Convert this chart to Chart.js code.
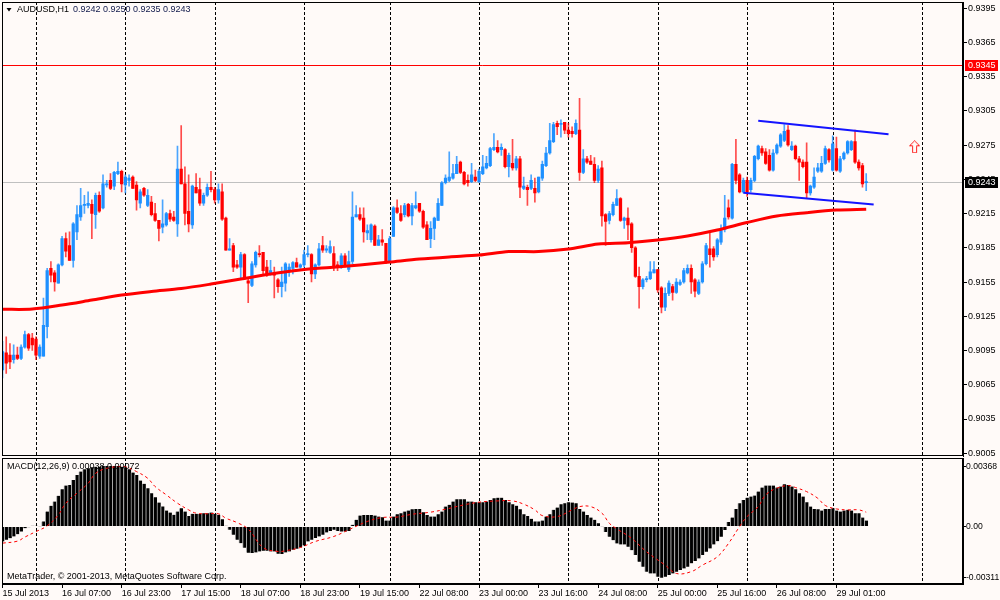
<!DOCTYPE html>
<html>
<head>
<meta charset="utf-8">
<script src="https://cdn.jsdelivr.net/npm/chart.js@4.4.1/dist/chart.umd.min.js"></script>
<style>
  body { margin: 0; background: #fffaf8; }
  #wrap { position: relative; width: 1000px; height: 600px; background: #fffaf8; overflow: hidden; }
  #wrap canvas { position: absolute; left: 0; }
</style>
</head>
<body>
<div id="wrap">
  <canvas id="price" width="1000" height="458" style="top:0"></canvas>
  <canvas id="macd" width="1000" height="142" style="top:458px"></canvas>
</div>
<script>
// AUDUSD H1 with SMA, channel lines and MACD(12,26,9) sub-window

// ---- time axis (broker hours, one bar per hour) ----
const days      = ['15 Jul', '16 Jul', '17 Jul', '18 Jul', '19 Jul', '22 Jul', '23 Jul', '24 Jul', '25 Jul', '26 Jul', '29 Jul', '30 Jul'];
const dayFirstH = [15, 0, 0, 0, 0, 0, 0, 0, 0, 0, 0, 0];
const dayLastH  = [23, 23, 23, 23, 22, 23, 23, 23, 23, 22, 23, 23];
const barCount  = 259;

const axisLabelBars = [0, 16, 32, 48, 64, 80, 96, 112, 128, 144, 160, 176, 192, 208, 224];
const axisLabelText = ['15 Jul 2013', '16 Jul 07:00', '16 Jul 23:00', '17 Jul 15:00', '18 Jul 07:00',
  '18 Jul 23:00', '19 Jul 15:00', '22 Jul 08:00', '23 Jul 00:00', '23 Jul 16:00', '24 Jul 08:00',
  '25 Jul 00:00', '25 Jul 16:00', '26 Jul 08:00', '29 Jul 01:00'];

// ---- candles ----
const opens = [
  .9078,.9093,.9091,.9087,.9091,.9088,.9098,.9109,.9106,.9105,
  .9090,.9090,.9116,.9167,.9163,.9154,.9170,.9193,.9187,.9174,
  .9199,.9212,.9222,.9222,.9223,.9214,.9231,.9220,.9240,.9244,
  .9239,.9250,.9252,.9240,.9244,.9247,.9240,.9224,.9237,.9222,
  .9225,.9215,.9209,.9203,.9205,.9215,.9212,.9206,.9254,.9241,
  .9217,.9205,.9238,.9236,.9224,.9231,.9238,.9236,.9227,.9234,
  .9211,.9183,.9187,.9170,.9168,.9179,.9156,.9152,.9170,.9180,
  .9181,.9168,.9162,.9162,.9157,.9151,.9154,.9164,.9167,.9172,
  .9168,.9170,.9179,.9179,.9162,.9170,.9187,.9183,.9181,.9180,
  .9170,.9168,.9178,.9166,.9173,.9212,.9214,.9211,.9198,.9192,
  .9204,.9187,.9192,.9189,.9173,.9195,.9220,.9215,.9214,.9223,
  .9213,.9220,.9224,.9217,.9205,.9193,.9202,.9209,.9222,.9242,
  .9244,.9246,.9250,.9260,.9251,.9244,.9243,.9247,.9243,.9250,
  .9255,.9257,.9271,.9273,.9271,.9271,.9256,.9259,.9255,.9263,
  .9237,.9238,.9237,.9237,.9234,.9246,.9257,.9268,.9278,.9294,
  .9293,.9295,.9288,.9287,.9285,.9288,.9251,.9263,.9261,.9258,
  .9244,.9255,.9214,.9209,.9214,.9222,.9228,.9209,.9211,.9206,
  .9185,.9160,.9151,.9157,.9158,.9163,.9166,.9150,.9133,.9145,
  .9151,.9146,.9153,.9155,.9163,.9167,.9157,.9145,.9155,.9171,
  .9184,.9184,.9179,.9190,.9201,.9220,.9211,.9258,.9249,.9234,
  .9244,.9236,.9244,.9263,.9272,.9269,.9266,.9253,.9268,.9274,
  .9279,.9288,.9271,.9274,.9263,.9260,.9260,.9233,.9238,.9252,
  .9252,.9259,.9271,.9253,.9272,.9252,.9263,.9268,.9271,.9278,
  .9260,.9257,.9242
];
const highs = [
  .9103,.9107,.9101,.9100,.9098,.9100,.9112,.9110,.9110,.9107,
  .9100,.9141,.9167,.9173,.9165,.9171,.9195,.9198,.9199,.9207,
  .9222,.9237,.9231,.9234,.9227,.9233,.9234,.9249,.9244,.9250,
  .9252,.9260,.9253,.9249,.9249,.9248,.9243,.9236,.9238,.9236,
  .9230,.9224,.9209,.9227,.9216,.9218,.9217,.9274,.9292,.9256,
  .9249,.9240,.9250,.9246,.9233,.9241,.9252,.9238,.9241,.9241,
  .9212,.9193,.9189,.9174,.9181,.9180,.9158,.9173,.9182,.9187,
  .9181,.9174,.9174,.9168,.9158,.9168,.9172,.9171,.9173,.9176,
  .9171,.9183,.9187,.9180,.9171,.9189,.9195,.9187,.9191,.9186,
  .9173,.9180,.9180,.9182,.9234,.9222,.9220,.9220,.9205,.9206,
  .9205,.9196,.9201,.9189,.9195,.9221,.9227,.9222,.9224,.9224,
  .9224,.9234,.9224,.9218,.9208,.9208,.9212,.9228,.9243,.9249,
  .9269,.9258,.9265,.9261,.9252,.9249,.9259,.9253,.9254,.9266,
  .9265,.9273,.9285,.9279,.9276,.9272,.9268,.9280,.9265,.9265,
  .9247,.9240,.9249,.9246,.9247,.9261,.9273,.9294,.9295,.9296,
  .9297,.9295,.9294,.9291,.9297,.9316,.9271,.9265,.9266,.9264,
  .9257,.9261,.9215,.9217,.9225,.9236,.9229,.9212,.9220,.9207,
  .9186,.9168,.9158,.9160,.9173,.9173,.9166,.9151,.9150,.9156,
  .9153,.9158,.9157,.9167,.9170,.9170,.9158,.9157,.9173,.9189,
  .9198,.9186,.9193,.9205,.9231,.9227,.9259,.9280,.9250,.9246,
  .9247,.9246,.9266,.9275,.9274,.9272,.9271,.9271,.9276,.9285,
  .9293,.9292,.9278,.9275,.9265,.9262,.9277,.9240,.9255,.9259,
  .9265,.9274,.9272,.9283,.9282,.9265,.9269,.9279,.9279,.9288,
  .9262,.9259,.9250
];
const lows = [
  .9071,.9075,.9079,.9084,.9087,.9087,.9097,.9095,.9095,.9087,
  .9088,.9090,.9106,.9155,.9147,.9154,.9169,.9177,.9174,.9168,
  .9192,.9209,.9215,.9220,.9193,.9202,.9216,.9219,.9238,.9236,
  .9236,.9249,.9234,.9233,.9239,.9237,.9218,.9220,.9230,.9221,
  .9213,.9208,.9191,.9198,.9204,.9208,.9208,.9195,.9241,.9205,
  .9199,.9202,.9233,.9222,.9222,.9230,.9234,.9224,.9224,.9209,
  .9183,.9183,.9164,.9167,.9158,.9158,.9137,.9151,.9168,.9177,
  .9162,.9160,.9161,.9141,.9146,.9142,.9147,.9160,.9162,.9168,
  .9167,.9168,.9177,.9155,.9158,.9169,.9181,.9181,.9180,.9165,
  .9165,.9167,.9168,.9164,.9171,.9212,.9209,.9190,.9192,.9190,
  .9187,.9187,.9187,.9171,.9172,.9195,.9215,.9208,.9212,.9212,
  .9205,.9219,.9216,.9202,.9192,.9185,.9192,.9209,.9222,.9241,
  .9243,.9245,.9250,.9250,.9240,.9239,.9242,.9243,.9242,.9249,
  .9254,.9256,.9270,.9268,.9266,.9255,.9247,.9253,.9253,.9229,
  .9236,.9222,.9236,.9225,.9233,.9244,.9256,.9267,.9277,.9284,
  .9282,.9285,.9282,.9282,.9284,.9244,.9250,.9259,.9258,.9242,
  .9242,.9204,.9187,.9206,.9213,.9222,.9208,.9202,.9192,.9181,
  .9159,.9132,.9149,.9155,.9157,.9163,.9146,.9128,.9130,.9143,
  .9139,.9145,.9152,.9154,.9162,.9145,.9142,.9144,.9154,.9170,
  .9168,.9174,.9177,.9188,.9199,.9210,.9210,.9241,.9233,.9233,
  .9230,.9234,.9243,.9262,.9266,.9258,.9252,.9252,.9267,.9273,
  .9278,.9274,.9270,.9262,.9244,.9255,.9228,.9231,.9237,.9251,
  .9251,.9258,.9260,.9252,.9252,.9251,.9262,.9267,.9270,.9259,
  .9253,.9238,.9235
];
const closes = [
  .9094,.9084,.9085,.9091,.9088,.9098,.9109,.9097,.9100,.9091,
  .9098,.9117,.9165,.9161,.9155,.9170,.9193,.9182,.9174,.9206,
  .9214,.9222,.9223,.9224,.9215,.9231,.9217,.9241,.9241,.9237,
  .9251,.9252,.9241,.9247,.9246,.9237,.9227,.9234,.9231,.9231,
  .9214,.9209,.9202,.9206,.9215,.9210,.9209,.9254,.9241,.9215,
  .9206,.9239,.9233,.9224,.9231,.9238,.9236,.9227,.9236,.9210,
  .9183,.9184,.9168,.9168,.9179,.9158,.9154,.9171,.9181,.9179,
  .9165,.9162,.9165,.9161,.9151,.9155,.9171,.9168,.9172,.9168,
  .9170,.9179,.9180,.9162,.9170,.9184,.9183,.9184,.9186,.9169,
  .9168,.9178,.9170,.9173,.9212,.9214,.9210,.9199,.9200,.9205,
  .9187,.9192,.9190,.9173,.9193,.9220,.9216,.9209,.9222,.9213,
  .9222,.9222,.9217,.9203,.9192,.9202,.9211,.9224,.9242,.9246,
  .9247,.9250,.9258,.9251,.9241,.9242,.9249,.9244,.9252,.9256,
  .9259,.9272,.9273,.9269,.9273,.9256,.9266,.9255,.9263,.9238,
  .9239,.9236,.9244,.9233,.9247,.9258,.9268,.9279,.9293,.9291,
  .9294,.9288,.9285,.9285,.9294,.9251,.9263,.9260,.9258,.9244,
  .9254,.9213,.9208,.9215,.9223,.9228,.9209,.9211,.9205,.9185,
  .9160,.9151,.9157,.9158,.9164,.9166,.9148,.9133,.9145,.9154,
  .9146,.9155,.9155,.9165,.9167,.9155,.9147,.9155,.9171,.9187,
  .9179,.9177,.9192,.9200,.9211,.9212,.9258,.9244,.9234,.9244,
  .9234,.9244,.9265,.9274,.9268,.9259,.9253,.9268,.9275,.9284,
  .9287,.9275,.9274,.9263,.9260,.9256,.9233,.9239,.9247,.9255,
  .9259,.9272,.9262,.9276,.9253,.9263,.9268,.9278,.9278,.9260,
  .9255,.9241,.9243
];

// moving average, read every 8 bars
const maBars = [0, 8, 16, 24, 32, 40, 48, 56, 64, 72, 80, 88, 96, 104, 112, 120, 128, 136, 144, 152, 160, 168, 176, 184, 192, 200, 208, 216, 224, 232];
const maVals = [.91311, .91313, .91348, .91392, .91436, .91467, .91493, .91532, .91576, .91620,
  .91655, .91678, .91700, .91725, .91751, .91770, .91786, .91817, .91817, .91839,
  .91883, .91894, .91918, .91953, .92005, .92071, .92128, .92157, .92180, .92187];

// drawn objects
const upperBars = [203, 238];
const upperVals = [.92963, .92844];
const lowerBars = [199, 234];
const lowerVals = [.92332, .92230];
const arrowBar = 245;
const arrowPrice = .92735;
const levelPrices = [.9345, .9243];
const levelColors = ['#ff0000', '#c0c0c0'];
const levelBoxes  = ['#ff0000', '#000000'];

const priceTicks = [.9005, .9035, .9065, .9095, .9125, .9155, .9185, .9215, .9245, .9275, .9305, .9335, .9365, .9395];

// ---- MACD ----
const macdHist = [
  -.00092,-.00082,-.00072,-.00061,-.00047,-.00031,-.00010,-.00004,.00004,.00004,
  -.00002,.00031,.00092,.00127,.00153,.00188,.00229,.00251,.00255,.00286,
  .00316,.00337,.00351,.00357,.00363,.00367,.00367,.00371,.00371,.00371,
  .00371,.00371,.00367,.00363,.00351,.00331,.00316,.00282,.00262,.00235,
  .00204,.00180,.00147,.00123,.00098,.00086,.00072,.00092,.00112,.00092,
  .00065,.00078,.00078,.00078,.00082,.00082,.00086,.00078,.00072,.00045,
  .00004,-.00020,-.00051,-.00082,-.00102,-.00131,-.00161,-.00163,-.00159,-.00153,
  -.00149,-.00149,-.00153,-.00153,-.00167,-.00169,-.00159,-.00153,-.00143,-.00137,
  -.00129,-.00116,-.00092,-.00082,-.00071,-.00061,-.00051,-.00037,-.00027,-.00020,
  -.00027,-.00031,-.00031,-.00027,.00010,.00041,.00067,.00071,.00071,.00071,
  .00067,.00061,.00057,.00037,.00037,.00061,.00075,.00082,.00092,.00098,
  .00106,.00108,.00108,.00088,.00071,.00061,.00061,.00075,.00092,.00122,
  .00133,.00153,.00167,.00167,.00167,.00153,.00153,.00149,.00149,.00149,
  .00153,.00163,.00173,.00177,.00177,.00163,.00149,.00137,.00128,.00106,
  .00075,.00065,.00047,.00031,.00031,.00037,.00061,.00075,.00102,.00116,
  .00137,.00143,.00149,.00147,.00143,.00108,.00092,.00071,.00055,.00041,
  .00020,-.00002,-.00033,-.00063,-.00084,-.00104,-.00110,-.00110,-.00124,-.00145,
  -.00175,-.00216,-.00247,-.00277,-.00288,-.00288,-.00308,-.00314,-.00308,-.00298,
  -.00288,-.00277,-.00267,-.00257,-.00247,-.00226,-.00212,-.00196,-.00175,-.00155,
  -.00135,-.00110,-.00090,-.00063,-.00022,.00027,.00055,.00108,.00143,.00163,
  .00177,.00184,.00190,.00214,.00239,.00251,.00251,.00251,.00239,.00245,
  .00259,.00255,.00245,.00228,.00204,.00184,.00149,.00122,.00108,.00106,
  .00098,.00108,.00108,.00112,.00098,.00092,.00098,.00102,.00098,.00082,
  .00082,.00055,.00037
];
const sigBars = [0, 4, 6, 9, 12, 15, 17, 20, 23, 25, 28, 31, 33, 36, 39, 41, 44, 47, 50, 52,
  55, 58, 60, 63, 66, 70, 74, 76, 80, 84, 89, 93, 98, 102, 106, 110, 115, 119, 124, 128,
  133, 137, 140, 143, 145, 149, 153, 155, 158, 161, 163, 165, 169, 173, 178, 181, 185, 188, 192, 195,
  198, 200, 203, 205, 208, 211, 213, 216, 219, 221, 224, 227, 230, 232];
const sigVals = [-.00102, -.00090, -.00065, -.00031, .00004, .00071, .00143, .00204, .00265, .00326,
  .00357, .00367, .00367, .00337, .00296, .00245, .00194, .00143, .00102, .00082,
  .00078, .00078, .00051, .00024, -.00016, -.00129, -.00153, -.00149, -.00129, -.00092,
  -.00061, -.00020, .00031, .00055, .00058, .00075, .00088, .00106, .00133, .00149,
  .00157, .00157, .00137, .00102, .00067, .00061, .00102, .00122, .00122, .00082,
  .00020, -.00014, -.00073, -.00155, -.00237, -.00288, -.00277, -.00237, -.00186, -.00104,
  .00000, .00061, .00122, .00194, .00235, .00251, .00239, .00214, .00173, .00129,
  .00108, .00102, .00102, .00088];
const macdTicks = [.00368, 0, -.00311];
const macdTickText = ['0.00368', '0.00', '-0.00311'];

// ---- build categories ----
const labels = [];
const daySeps = [];
days.forEach((d, k) => {
  for (let h = dayFirstH[k]; h <= dayLastH[k]; h++) {
    if (h === 0) daySeps.push(labels.length);
    labels.push(d + ' ' + String(h).padStart(2, '0') + ':00');
  }
});
labels.length = barCount;

const FONT = '"Liberation Sans", Arial, sans-serif';
Chart.defaults.font.family = FONT;
Chart.defaults.font.size = 9;
Chart.defaults.color = '#000';

const BULL = '#1e90ff', BEAR = '#ff0000';
const isBull = i => closes[i] >= opens[i];
const pts = (bars, vals) => bars.map((b, k) => ({ x: labels[b], y: vals[k] }));

// hollow up arrow used as point style
const arrowIcon = document.createElement('canvas');
arrowIcon.width = 11;
arrowIcon.height = 13;
(() => {
  const c = arrowIcon.getContext('2d');
  c.beginPath();
  c.moveTo(5.5, 0.5); c.lineTo(10.5, 5.5); c.lineTo(7.5, 5.5); c.lineTo(7.5, 12.5);
  c.lineTo(3.5, 12.5); c.lineTo(3.5, 5.5); c.lineTo(0.5, 5.5); c.closePath();
  c.fillStyle = '#fffaf8';
  c.fill();
  c.strokeStyle = '#ff2020';
  c.lineWidth = 1;
  c.stroke();
})();

function drawSeparators(chart) {
  const { ctx, chartArea: a, scales: { x } } = chart;
  ctx.save();
  ctx.strokeStyle = '#000';
  ctx.lineWidth = 1;
  ctx.setLineDash([3, 2]);
  daySeps.forEach(i => {
    const px = Math.round(x.getPixelForValue(i)) + 0.5;
    ctx.beginPath();
    ctx.moveTo(px, a.top);
    ctx.lineTo(px, a.bottom);
    ctx.stroke();
  });
  ctx.restore();
}

function drawFrame(chart) {
  const { ctx, chartArea: a } = chart;
  ctx.save();
  ctx.strokeStyle = '#000';
  ctx.lineWidth = 1;
  ctx.strokeRect(Math.floor(a.left) + 0.5, Math.floor(a.top) + 0.5,
    Math.round(a.right - a.left) - 1, Math.round(a.bottom - a.top) - 1);
  ctx.restore();
}

// keep the plot area exactly where the padding puts it
const noEdgePad = s => { s.paddingTop = 0; s.paddingBottom = 0; s.paddingLeft = 0; s.paddingRight = 0; };

const priceDecor = {
  id: 'priceDecor',
  beforeDatasetsDraw(chart) {
    const { ctx, chartArea: a, scales: { y } } = chart;
    drawSeparators(chart);
    ctx.save();
    levelPrices.forEach((v, k) => {
      const py = Math.round(y.getPixelForValue(v)) + 0.5;
      ctx.strokeStyle = levelColors[k];
      ctx.lineWidth = 1;
      ctx.beginPath();
      ctx.moveTo(a.left, py);
      ctx.lineTo(a.right, py);
      ctx.stroke();
    });
    ctx.restore();
  },
  afterDraw(chart) {
    const { ctx, chartArea: a, scales: { y } } = chart;
    drawFrame(chart);
    ctx.save();
    ctx.font = '9px ' + FONT;
    ctx.textBaseline = 'middle';
    levelPrices.forEach((v, k) => {
      const py = y.getPixelForValue(v);
      ctx.fillStyle = levelBoxes[k];
      ctx.fillRect(a.right + 2, Math.round(py) - 5, 33, 11);
      ctx.fillStyle = '#fff';
      ctx.fillText(v.toFixed(4), a.right + 5, py + 0.5);
    });
    // window title
    ctx.fillStyle = '#000';
    ctx.beginPath();
    ctx.moveTo(6.5, 8); ctx.lineTo(11.5, 8); ctx.lineTo(9, 11.5); ctx.closePath();
    ctx.fill();
    ctx.fillText('AUDUSD,H1', 17, 10);
    ctx.fillStyle = '#10184a';
    ctx.fillText(opens[opens.length - 1].toFixed(4) + ' ' + highs[highs.length - 1].toFixed(4) + ' ' +
      lows[lows.length - 1].toFixed(4) + ' ' + closes[closes.length - 1].toFixed(4), 73, 10);
    ctx.restore();
  }
};

const macdDecor = {
  id: 'macdDecor',
  beforeDatasetsDraw(chart) { drawSeparators(chart); },
  afterDraw(chart) {
    const { ctx } = chart;
    drawFrame(chart);
    ctx.save();
    ctx.font = '9px ' + FONT;
    ctx.textBaseline = 'middle';
    ctx.fillStyle = '#000';
    ctx.fillText('MACD(12,26,9) 0.00038 0.00072', 7, 8.5);
    ctx.fillText('MetaTrader, \u00a9 2001-2013, MetaQuotes Software Corp.', 7, 119);
    ctx.restore();
  }
};

new Chart(document.getElementById('price'), {
  type: 'bar',
  data: {
    labels,
    datasets: [
      { type: 'line', data: pts(maBars, maVals), borderColor: '#ff0000', borderWidth: 3,
        pointRadius: 0, tension: 0.3, order: 0 },
      { type: 'line', data: pts(upperBars, upperVals), borderColor: '#1414ff', borderWidth: 2,
        pointRadius: 0, order: 0 },
      { type: 'line', data: pts(lowerBars, lowerVals), borderColor: '#1414ff', borderWidth: 2,
        pointRadius: 0, order: 0 },
      { type: 'line', data: [{ x: labels[arrowBar], y: arrowPrice }], showLine: false,
        pointStyle: arrowIcon, pointRadius: 6, order: 0 },
      { data: opens.map((o, i) => [o, closes[i]]),
        backgroundColor: c => isBull(c.dataIndex) ? BULL : BEAR,
        barThickness: 2.6, minBarLength: 1, grouped: false, order: 1 },
      { data: lows.map((l, i) => [l, highs[i]]),
        backgroundColor: c => isBull(c.dataIndex) ? 'rgba(30,144,255,0.8)' : 'rgba(255,0,0,0.7)',
        barThickness: 1, grouped: false, order: 2 }
    ]
  },
  options: {
    responsive: false,
    animation: false,
    events: [],
    layout: { autoPadding: false, padding: { left: 2.5, top: 2, right: 0, bottom: 2 } },
    plugins: { legend: { display: false }, tooltip: { enabled: false } },
    scales: {
      x: { display: false, offset: false, grid: { offset: false } },
      y: {
        position: 'right',
        min: 0.90026,
        max: 0.94003,
        afterFit: s => { s.width = 37; noEdgePad(s); },
        afterBuildTicks: s => { s.ticks = priceTicks.map(v => ({ value: v })); },
        ticks: { autoSkip: false, padding: 1, color: '#000', callback: v => v.toFixed(4) },
        grid: { drawOnChartArea: false, drawTicks: true, tickLength: 4, color: '#000' },
        border: { display: true, color: '#000' }
      }
    }
  },
  plugins: [priceDecor]
});

new Chart(document.getElementById('macd'), {
  type: 'bar',
  data: {
    labels,
    datasets: [
      { type: 'line', data: pts(sigBars, sigVals), borderColor: '#ff0000', borderWidth: 1,
        borderDash: [3, 3], pointRadius: 0, tension: 0.4, order: 0 },
      { data: macdHist, backgroundColor: '#000', borderColor: '#a8a8a8',
        borderWidth: { left: 1, right: 0, top: 0, bottom: 0 }, borderSkipped: false,
        barThickness: 3.72, grouped: false, order: 1 }
    ]
  },
  options: {
    responsive: false,
    animation: false,
    events: [],
    layout: { autoPadding: false, padding: { left: 2.5, top: 0, right: 0, bottom: 0 } },
    plugins: { legend: { display: false }, tooltip: { enabled: false } },
    scales: {
      x: {
        offset: false,
        afterFit: s => { s.height = 16; noEdgePad(s); },
        afterBuildTicks: s => { s.ticks = axisLabelBars.map(v => ({ value: v })); },
        ticks: {
          autoSkip: false, maxRotation: 0, minRotation: 0, align: 'start', padding: 0, color: '#000',
          callback: v => axisLabelText[axisLabelBars.indexOf(v)]
        },
        grid: { offset: false, drawOnChartArea: false, drawTicks: true, tickLength: 4, color: '#000' },
        border: { display: true, color: '#000' }
      },
      y: {
        position: 'right',
        min: -0.0035276,
        max: 0.0042025,
        afterFit: s => { s.width = 37; noEdgePad(s); },
        afterBuildTicks: s => { s.ticks = macdTicks.map(v => ({ value: v })); },
        ticks: { autoSkip: false, padding: 0, color: '#000', font: { size: 8.6 },
          callback: v => macdTickText[macdTicks.indexOf(v)] },
        grid: { drawOnChartArea: false, drawTicks: true, tickLength: 3, color: '#000' },
        border: { display: true, color: '#000' }
      }
    }
  },
  plugins: [macdDecor]
});
</script>
</body>
</html>
